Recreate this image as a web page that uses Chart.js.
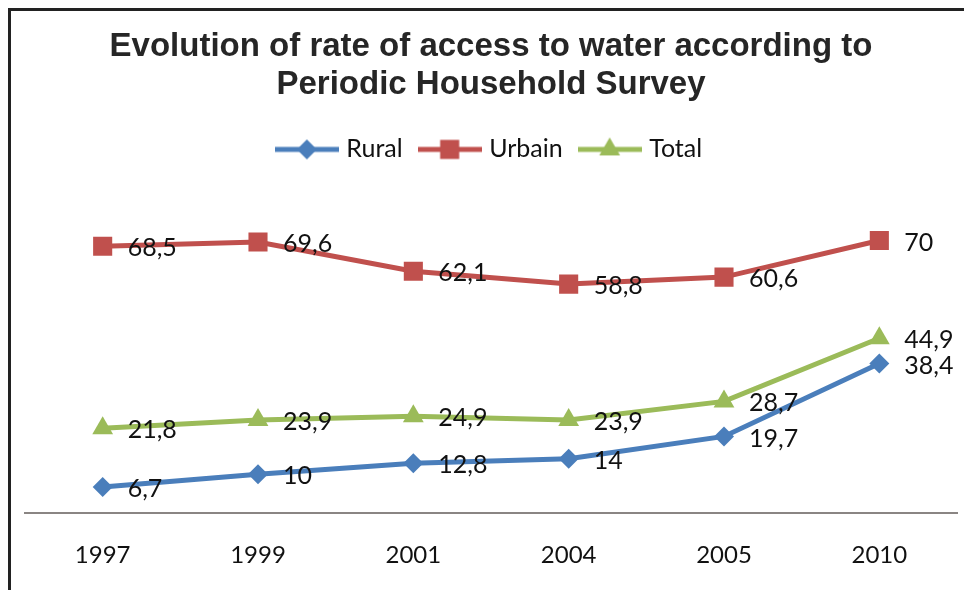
<!DOCTYPE html>
<html>
<head>
<meta charset="utf-8">
<script src="https://cdn.jsdelivr.net/npm/chart.js@4.4.0/dist/chart.umd.min.js"></script>
<style>
  html, body { margin: 0; padding: 0; background: #fff; overflow: hidden; }
  #wrap { position: relative; width: 964px; height: 590px; }
  #frame { position: absolute; left: 8px; top: 8px; width: 1000px; height: 700px;
           border-top: 3px solid #222; border-left: 3px solid #222; pointer-events: none; }
</style>
</head>
<body>
<div id="wrap">
  <canvas id="myChart" width="964" height="590"></canvas>
  <div id="frame"></div>
</div>
<script>
const years = ['1997', '1999', '2001', '2004', '2005', '2010'];
const rural = [6.7, 10, 12.8, 14, 19.7, 38.4];
const urbain = [68.5, 69.6, 62.1, 58.8, 60.6, 70];
const total = [21.8, 23.9, 24.9, 23.9, 28.7, 44.9];
const seriesNames = ['Rural', 'Urbain', 'Total'];

const blue = '#4a7ebb';
const red = '#c0504d';
const green = '#9bbb59';

// legend swatch: short line with the marker in the middle
function swatch(color, style, radius) {
    const c = document.createElement('canvas');
    c.width = 64; c.height = 26;
    const g = c.getContext('2d');
    g.strokeStyle = color;
    g.lineWidth = 5;
    g.beginPath(); g.moveTo(0, 13); g.lineTo(64, 13); g.stroke();
    g.fillStyle = color;
    Chart.helpers.drawPoint(g, { pointStyle: style, radius: radius, borderWidth: 0 }, 32, 13);
    return c;
}

const valueLabels = {
    id: 'valueLabels',
    afterDatasetsDraw(chart) {
        const ctx = chart.ctx;
        ctx.save();
        ctx.font = '25px Lato';
        ctx.fillStyle = '#111';
        ctx.textAlign = 'left';
        ctx.textBaseline = 'middle';
        chart.data.datasets.forEach((ds, i) => {
            chart.getDatasetMeta(i).data.forEach((pt, j) => {
                ctx.fillText(String(ds.data[j]).replace('.', ','), pt.x + 25, pt.y + 2);
            });
        });
        ctx.restore();
    }
};

var canvas = document.getElementById('myChart').getContext('2d');

new Chart(canvas, {
    type: 'line',
    data: {
        labels: years,
        datasets: [
            { label: seriesNames[0], data: rural, borderColor: blue, backgroundColor: blue,
              pointStyle: 'rectRot', pointRadius: 10, swatch: swatch(blue, 'rectRot', 10) },
            { label: seriesNames[1], data: urbain, borderColor: red, backgroundColor: red,
              pointStyle: 'rect', pointRadius: 13.5, swatch: swatch(red, 'rect', 13.5) },
            { label: seriesNames[2], data: total, borderColor: green, backgroundColor: green,
              pointStyle: 'triangle', pointRadius: 12, swatch: swatch(green, 'triangle', 12) }
        ].map(d => Object.assign(d, { borderWidth: 5, pointBorderWidth: 0, tension: 0 }))
    },
    options: {
        responsive: false,
        animation: false,
        layout: { autoPadding: false, padding: { left: 25, right: 7, bottom: 0 } },
        plugins: {
            title: {
                display: true,
                text: ['Evolution of rate of access to water according to', 'Periodic Household Survey'],
                color: '#262626',
                font: { family: 'Liberation Sans', size: 33, weight: 'bold', lineHeight: 1.15 },
                padding: { top: 28, bottom: 13 }
            },
            legend: {
                position: 'top',
                labels: {
                    color: '#111',
                    font: { family: 'Lato', size: 25 },
                    usePointStyle: true,
                    pointStyleWidth: 54,
                    padding: 20,
                    generateLabels(chart) {
                        return chart.data.datasets.map((ds, i) => ({
                            text: ds.label,
                            pointStyle: ds.swatch,
                            fillStyle: ds.borderColor,
                            strokeStyle: ds.borderColor,
                            lineWidth: 0,
                            fontColor: '#111',
                            datasetIndex: i
                        }));
                    }
                }
            },
            tooltip: { enabled: false }
        },
        scales: {
            x: {
                offset: true,
                grid: { display: false },
                border: { display: true, color: '#8a8583', width: 2 },
                ticks: { color: '#111', font: { family: 'Lato', size: 24 }, padding: 20 }
            },
            y: {
                display: false,
                min: 0,
                max: 87.6
            }
        }
    },
    plugins: [valueLabels]
});
</script>
</body>
</html>
